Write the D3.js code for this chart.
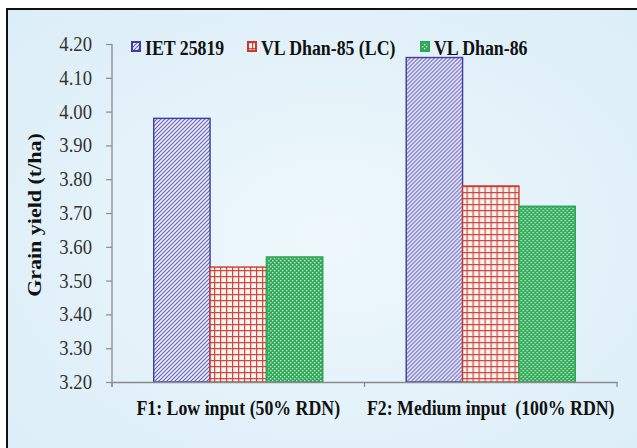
<!DOCTYPE html>
<html>
<head>
<meta charset="utf-8">
<script src="https://cdn.jsdelivr.net/npm/d3@7"></script>
<style>
  html, body { margin: 0; padding: 0; background: #ffffff; }
  svg { display: block; }
  text { font-family: "Liberation Serif", "Times New Roman", serif; white-space: pre; }
</style>
</head>
<body>
<div id="chart"></div>
<script>
// data
var categories = ["F1: Low input (50% RDN)", "F2: Medium input  (100% RDN)"];
var series = ["IET 25819", "VL Dhan-85 (LC)", "VL Dhan-86"];
var iet25819 = [3.98, 4.16];
var vlDhan85 = [3.54, 3.78];
var vlDhan86 = [3.57, 3.72];
var yTicks = [3.20, 3.30, 3.40, 3.50, 3.60, 3.70, 3.80, 3.90, 4.00, 4.10, 4.20];

var values = [iet25819, vlDhan85, vlDhan86];
var table = categories.map(function(c, i) {
  return { cat: c, bars: series.map(function(s, j) { return { key: s, value: values[j][i] }; }) };
});

var width = 637, height = 448;
var margin = { left: 112, right: 16, top: 44, bottom: 66 };
var sx = 0.89; // picture is squeezed sideways

var svg = d3.select("#chart").append("svg")
  .attr("width", width)
  .attr("height", height);

var defs = svg.append("defs");

// background
var bg = defs.append("radialGradient").attr("id", "bg")
  .attr("cx", "50%").attr("cy", "50%").attr("r", "70%");
bg.append("stop").attr("offset", "0%").attr("stop-color", "#eef8fc");
bg.append("stop").attr("offset", "100%").attr("stop-color", "#dbedf7");

svg.append("rect")
  .attr("x", 7).attr("y", 9)
  .attr("width", width + 10).attr("height", height + 10)
  .attr("fill", "url(#bg)")
  .attr("stroke", "#111").attr("stroke-width", 2);

// patterns
var pBlue = defs.append("pattern").attr("id", "pat0")
  .attr("patternUnits", "userSpaceOnUse").attr("width", 4).attr("height", 4);
pBlue.append("rect").attr("width", 4).attr("height", 4).attr("fill", "#eeeefa");
pBlue.append("path").attr("d", "M-1,1 L1,-1 M0,4 L4,0 M3,5 L5,3")
  .attr("stroke", "#6363bb").attr("stroke-width", 1.15);

var pRed = defs.append("pattern").attr("id", "pat1")
  .attr("patternUnits", "userSpaceOnUse").attr("width", 6).attr("height", 6);
pRed.append("rect").attr("width", 6).attr("height", 6).attr("fill", "#fbf4f2");
pRed.append("path").attr("d", "M0,0.6 H6 M0.6,0 V6")
  .attr("stroke", "#d04a3c").attr("stroke-width", 1.3);

var pGreen = defs.append("pattern").attr("id", "pat2")
  .attr("patternUnits", "userSpaceOnUse").attr("width", 4).attr("height", 4);
pGreen.append("rect").attr("width", 4).attr("height", 4).attr("fill", "#2faa58");
pGreen.append("rect").attr("x", 0).attr("y", 0).attr("width", 1.3).attr("height", 1.3).attr("fill", "#d8f0de");
pGreen.append("rect").attr("x", 2).attr("y", 2).attr("width", 1.3).attr("height", 1.3).attr("fill", "#d8f0de");

var strokeCol = ["#3e3e9e", "#c8392c", "#2ea455"];

// scales
var x0 = d3.scaleBand()
  .domain(categories)
  .range([margin.left, width - margin.right - 4]);

var x1 = d3.scaleBand()
  .domain(series)
  .range([0, x0.bandwidth()])
  .paddingOuter(0.74);

var y = d3.scaleLinear()
  .domain([3.2, 4.2])
  .range([height - margin.bottom, margin.top]);

// squeezed text helper
function label(g, x, yy, str, opts) {
  var t = g.append("g").attr("transform", "translate(" + x + "," + yy + ") scale(" + sx + ",1)")
    .append("text")
    .attr("text-anchor", opts.anchor || "start")
    .attr("font-size", opts.size)
    .attr("font-weight", opts.weight || "normal")
    .attr("fill", opts.fill || "#111")
    .text(str);
  if (opts.rotate) t.attr("transform", "rotate(" + opts.rotate + ")");
  return t;
}

// bars
var groups = svg.append("g").selectAll("g")
  .data(table)
  .join("g")
  .attr("transform", function(d) { return "translate(" + x0(d.cat) + ",0)"; });

groups.selectAll("rect")
  .data(function(d) { return d.bars; })
  .join("rect")
  .attr("x", function(d) { return x1(d.key); })
  .attr("y", function(d) { return y(d.value); })
  .attr("width", x1.bandwidth())
  .attr("height", function(d) { return y(3.2) - y(d.value); })
  .attr("fill", function(d, i) { return "url(#pat" + i + ")"; })
  .attr("stroke", function(d, i) { return strokeCol[i]; })
  .attr("stroke-width", 1.4);

// axes
var axisCol = "#8a8a8a";
var yAxis = svg.append("g")
  .attr("transform", "translate(" + margin.left + ",0)")
  .call(d3.axisLeft(y).tickValues(yTicks).tickSize(6).tickFormat(""));
yAxis.select(".domain").attr("stroke", axisCol).attr("stroke-width", 1.3).attr("d", "M0," + y(4.2) + "V" + (y(3.2) + 5));
yAxis.selectAll(".tick line").attr("stroke", axisCol).attr("stroke-width", 1.2);

yTicks.forEach(function(v) {
  label(svg, 92, y(v) + 7, d3.format(".2f")(v), { anchor: "end", size: 21, fill: "#333" });
});

var xAxis = svg.append("g")
  .attr("transform", "translate(0," + y(3.2) + ")")
  .call(d3.axisBottom(x0).tickSize(0).tickFormat(""));
xAxis.select(".domain").attr("stroke", axisCol).attr("stroke-width", 1.3);
var xr = x0.range();
[xr[0], (xr[0] + xr[1]) / 2, xr[1]].forEach(function(px) {
  xAxis.append("line").attr("x1", px).attr("x2", px).attr("y1", 0).attr("y2", 5)
    .attr("stroke", axisCol).attr("stroke-width", 1.2);
});

categories.forEach(function(c) {
  label(svg, x0(c) + x0.bandwidth() / 2, 415, c, { anchor: "middle", size: 20, weight: "bold" });
});

// y title
label(svg, 41, 215, "Grain yield (t/ha)", { anchor: "middle", size: 22, weight: "bold", rotate: -90 });

// legend
var legendX = [132, 248, 421];
series.forEach(function(s, i) {
  svg.append("rect")
    .attr("x", legendX[i]).attr("y", 42)
    .attr("width", 8).attr("height", 9)
    .attr("fill", "url(#pat" + i + ")")
    .attr("stroke", strokeCol[i]).attr("stroke-width", 2);
  label(svg, legendX[i] + 13, 54.5, s, { size: 20, weight: "bold" });
});
</script>
</body>
</html>
